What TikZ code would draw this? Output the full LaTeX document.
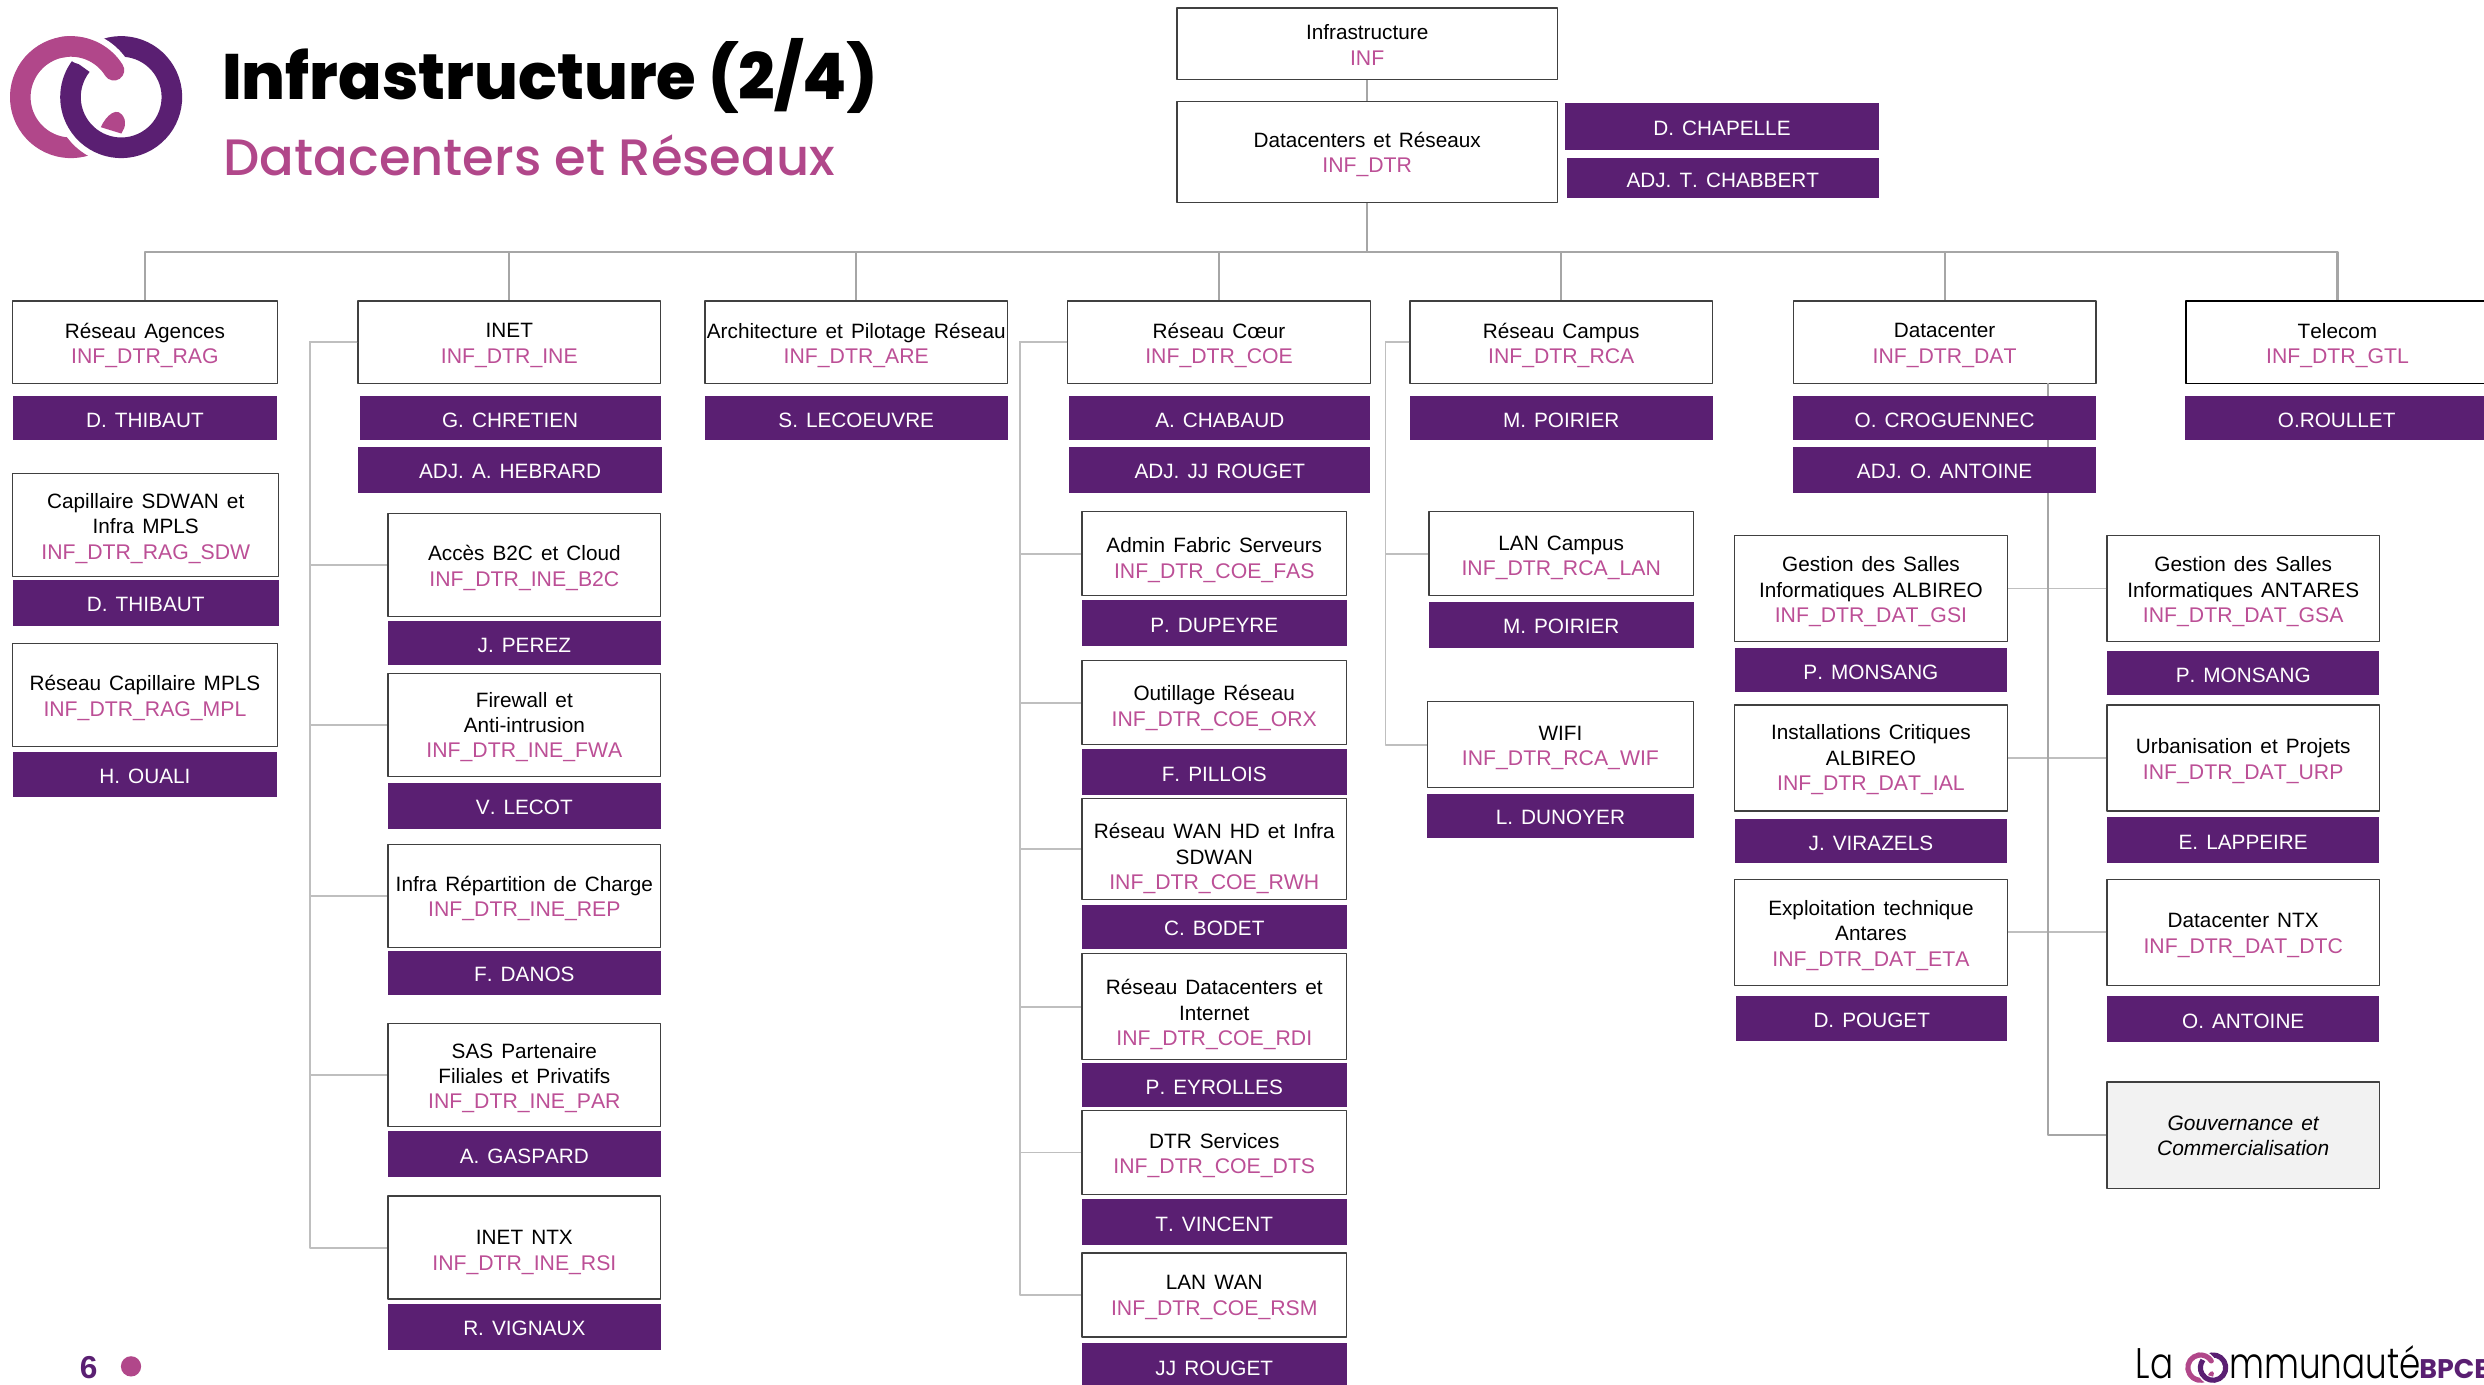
\documentclass[tikz,border=0pt]{standalone}
\usepackage{fontspec}
\setmainfont{Liberation Sans}[Kerning=Off,WordSpace=1.4]
\newfontfamily\titlefont{Poppins}[UprightFont={* ExtraBold}]
\newfontfamily\bpcefont{Poppins}[UprightFont={* Bold}]
\newfontfamily\subfont{Poppins}[UprightFont={* Medium}]
\newfontfamily\thinfont{Poppins}[UprightFont={* Light}]
\definecolor{bpcepurple}{HTML}{5A1F72}
\definecolor{bpcepink}{HTML}{B1478A}
\definecolor{codepink}{HTML}{BC4F96}
\newcommand\unitcode[1]{\textcolor{codepink}{\fontsize{13.4}{16}\selectfont #1}}
\tikzset{
	pics/logomark/.style={code={
		\begin{scope}[x=#1pt,y=#1pt,line cap=butt]
		\draw[bpcepink,line width=#1*13pt] (-15.85,0) ++(32:32) arc[start angle=32,end angle=300,radius=32];
		\draw[white,line width=#1*21pt] (15.85,0) ++(120:32) arc[start angle=120,end angle=-218,radius=32];
		\draw[bpcepurple,line width=#1*13pt] (15.85,0) ++(120:32) arc[start angle=120,end angle=-218,radius=32];
		\draw[white,line width=#1*21pt,line cap=round] (-15.85,0) ++(32:32) arc[start angle=32,end angle=78,radius=32];
		\draw[bpcepink,line width=#1*13pt,line cap=round] (-15.85,0) ++(32:32) arc[start angle=32,end angle=100,radius=32];
		\fill[bpcepink] (3,-19) .. controls (6,-12) and (14,-4) .. (18,-14) .. controls (19,-20) and (17,-20) .. (16,-23) -- cycle;
		\end{scope}
	}},
}
\begin{document}
\begin{tikzpicture}[x=1pt,y=-1pt,line join=round,font=\fontsize{13.1}{16}\selectfont]
	\tikzset{
		unitbox/.style={draw=black!75,line width=.8pt,fill=white,inner sep=0pt},
		unittext/.style={align=center,inner sep=0pt},
		namebar/.style={fill=bpcepurple,text=white,inner sep=0pt,text height=11.4pt,text depth=0pt},
		linkmain/.style={draw=black!35,line width=1.3pt},
		linkside/.style={draw=black!25,line width=1.2pt},
	}
	\useasboundingbox (0,0) rectangle (1568,874.25);
	\clip (0,0) rectangle (1568,874.25);
	% title block
	\pic at (60.65,61.3) {logomark=1};
	\node[anchor=base west,inner sep=0pt,font=\titlefont\fontsize{40.5}{40.5}\selectfont] (title) at (140,63) {Infrastructure (2/4)};
	\node[anchor=base west,inner sep=0pt,font=\subfont\fontsize{32.3}{32.3}\selectfont,text=bpcepink] (subtitle) at (141,111) {Datacenters et Réseaux};
	% units
	\foreach \nm/\xa/\ya/\xb/\yb/\dy/\txt in {
		inf/743/5/983/50/1/{Infrastructure\\\unitcode{INF}},
		dtr/743/64/983/128/1.5/{Datacenters et Réseaux\\\unitcode{INF\_DTR}},
		rag/8/190/175/242/2/{Réseau Agences\\\unitcode{INF\_DTR\_RAG}},
		ine/226/190/417/242/2/{INET\\\unitcode{INF\_DTR\_INE}},
		are/445/190/636/242/2/{Architecture et Pilotage Réseau\\\unitcode{INF\_DTR\_ARE}},
		coe/674/190/865/242/2/{Réseau Cœur\\\unitcode{INF\_DTR\_COE}},
		rca/890/190/1081/242/2/{Réseau Campus\\\unitcode{INF\_DTR\_RCA}},
		dat/1132/190/1323/242/2/{Datacenter\\\unitcode{INF\_DTR\_DAT}},
		sdw/8/299/176/364/2/{Capillaire SDWAN et\\Infra MPLS\\\unitcode{INF\_DTR\_RAG\_SDW}},
		mpl/8/406/175/471/2/{Réseau Capillaire MPLS\\\unitcode{INF\_DTR\_RAG\_MPL}},
		btc/245/324/417/389/2/{Accès B2C et Cloud\\\unitcode{INF\_DTR\_INE\_B2C}},
		fwa/245/425/417/490/1.5/{Firewall et\\Anti-intrusion\\\unitcode{INF\_DTR\_INE\_FWA}},
		rep/245/533/417/598/1.5/{Infra Répartition de Charge\\\unitcode{INF\_DTR\_INE\_REP}},
		par/245/646/417/711/2/{SAS Partenaire\\Filiales et Privatifs\\\unitcode{INF\_DTR\_INE\_PAR}},
		rsi/245/755/417/820/3/{INET NTX\\\unitcode{INF\_DTR\_INE\_RSI}},
		fas/683/323/850/376/4/{Admin Fabric Serveurs\\\unitcode{INF\_DTR\_COE\_FAS}},
		orx/683/417/850/470/3.5/{Outillage Réseau\\\unitcode{INF\_DTR\_COE\_ORX}},
		rwh/683/504/850/568/6/{Réseau WAN HD et Infra\\SDWAN\\\unitcode{INF\_DTR\_COE\_RWH}},
		rdi/683/602/850/669/5/{Réseau Datacenters et\\Internet\\\unitcode{INF\_DTR\_COE\_RDI}},
		dts/683/701/850/754/2/{DTR Services\\\unitcode{INF\_DTR\_COE\_DTS}},
		rsm/683/791/850/844/1.5/{LAN WAN\\\unitcode{INF\_DTR\_COE\_RSM}},
		lan/902/323/1069/376/2.5/{LAN Campus\\\unitcode{INF\_DTR\_RCA\_LAN}},
		wif/901/443/1069/497/2/{WIFI\\\unitcode{INF\_DTR\_RCA\_WIF}},
		gsi/1095/338/1267/405/2/{Gestion des Salles\\Informatiques ALBIREO\\\unitcode{INF\_DTR\_DAT\_GSI}},
		ial/1095/445/1267/512/1/{Installations Critiques\\ALBIREO\\\unitcode{INF\_DTR\_DAT\_IAL}},
		eta/1095/555/1267/622/2/{Exploitation technique\\Antares\\\unitcode{INF\_DTR\_DAT\_ETA}},
		gsa/1330/338/1502/405/2/{Gestion des Salles\\Informatiques ANTARES\\\unitcode{INF\_DTR\_DAT\_GSA}},
		urp/1330/445/1502/512/2/{Urbanisation et Projets\\\unitcode{INF\_DTR\_DAT\_URP}},
		dtc/1330/555/1502/622/2/{Datacenter NTX\\\unitcode{INF\_DTR\_DAT\_DTC}}%
	}{
	\node[unitbox,minimum width={(\xb-\xa)*1pt},minimum height={(\yb-\ya)*1pt}] (\nm) at ({(\xa+\xb)/2},{(\ya+\yb)/2}) {};
	\node[unittext,yshift=-\dy pt] (\nm-text) at (\nm) {\txt};
	}
	\node[unitbox,draw=black,line width=1.1pt,minimum width=191pt,minimum height=52pt] (gtl) at (1475.5,216) {};
	\node[unittext,yshift=-2pt] (gtl-text) at (gtl) {Telecom\\\unitcode{INF\_DTR\_GTL}};
	\node[unitbox,fill=black!5,minimum width=172pt,minimum height=67pt] (gov) at (1416,716.5) {};
	\node[unittext,yshift=-.5pt,font=\itshape\fontsize{13.2}{16}\selectfont] (gov-text) at (gov) {Gouvernance et\\Commercialisation};
	% connectors
	\coordinate (bus) at (863,159);
	\coordinate (dattop) at (1293,242);
	\draw[linkmain] (inf) -- (dtr);
	\foreach \kid in {rag,ine,are,coe,rca,dat,gtl}
	\draw[linkmain] (dtr.south) -- (bus) -| (\kid.north);
	\foreach \kid in {btc,fwa,rep,par,rsi}
	\draw[linkside] (ine.west) -- ++(-30,0) |- (\kid.west);
	\foreach \kid in {fas,orx,rwh,rdi,dts,rsm}
	\draw[linkside] (coe.west) -- ++(-30,0) |- (\kid.west);
	\foreach \kid in {lan,wif}
	\draw[linkside] (rca.west) -- ++(-15,0) |- (\kid.west);
	\foreach \kid in {gsi,ial,eta,gsa,urp,dtc}
	\draw[linkside] (\kid) -- (\kid -| dattop);
	\draw[linkmain] (dattop) |- (gov);
	% names
	\foreach \nm/\xa/\ya/\xb/\yb/\txt in {
		chapelle/988/65/1186/95/D. CHAPELLE,
		chabbert/989/100/1186/125/ADJ. T. CHABBERT,
		thibaut/8/250/175/278/D. THIBAUT,
		chretien/227/250/417/278/G. CHRETIEN,
		hebrard/226/282/418/311/ADJ. A. HEBRARD,
		lecoeuvre/445/250/636/278/S. LECOEUVRE,
		chabaud/675/250/865/278/A. CHABAUD,
		rouget/675/282/865/311/ADJ. JJ ROUGET,
		poirier/890/250/1081/278/M. POIRIER,
		croguennec/1132/250/1323/278/O. CROGUENNEC,
		antoine/1132/282/1323/311/ADJ. O. ANTOINE,
		roullet/1379/250/1571/278/O.ROULLET,
		thibautb/8/366/176/395/D. THIBAUT,
		ouali/8/475/175/503/H. OUALI,
		perez/245/392/417/420/J. PEREZ,
		lecot/245/494/417/523/V. LECOT,
		danos/245/600/417/628/F. DANOS,
		gaspard/245/714/417/743/A. GASPARD,
		vignaux/245/823/417/852/R. VIGNAUX,
		dupeyre/683/379/850/408/P. DUPEYRE,
		pillois/683/473/850/502/F. PILLOIS,
		bodet/683/571/850/599/C. BODET,
		eyrolles/683/671/850/699/P. EYROLLES,
		vincent/683/757/850/786/T. VINCENT,
		rougetb/683/848/850/877/JJ ROUGET,
		poirierb/902/380/1069/409/M. POIRIER,
		dunoyer/901/501/1069/529/L. DUNOYER,
		monsang/1095/409/1267/437/P. MONSANG,
		virazels/1095/517/1267/545/J. VIRAZELS,
		pouget/1096/629/1267/657/D. POUGET,
		monsangb/1330/411/1502/439/P. MONSANG,
		lappeire/1330/516/1502/545/E. LAPPEIRE,
		antoineb/1330/629/1502/658/O. ANTOINE%
	}
	\node[namebar,minimum width={(\xb-\xa)*1pt},minimum height={(\yb-\ya)*1pt}] (\nm) at ({(\xa+\xb)/2},{(\ya+\yb)/2}) {\txt};
	% footer
	\node[anchor=base,inner sep=0pt,text=bpcepurple,font=\bfseries\fontsize{20}{20}\selectfont] (page) at (56,870) {6};
	\fill[bpcepink] (82.7,862.5) circle (6.4);
	\node[anchor=base west,inner sep=0pt,font=\thinfont\fontsize{27}{27}\selectfont] (la) at (1348,870) {\scalebox{.8}[1]{La}};
	\pic at (1393,863.3) {logomark=.25};
	\node[anchor=base west,inner sep=0pt,font=\thinfont\fontsize{27}{27}\selectfont] (mun) at (1407,870) {\scalebox{.8}[1]{mmunauté}};
	\node[anchor=base west,inner sep=0pt,text=bpcepurple,font=\bpcefont\fontsize{17}{17}\selectfont] (bpce) at (1527,870) {BPCE};
\end{tikzpicture}
\end{document}
